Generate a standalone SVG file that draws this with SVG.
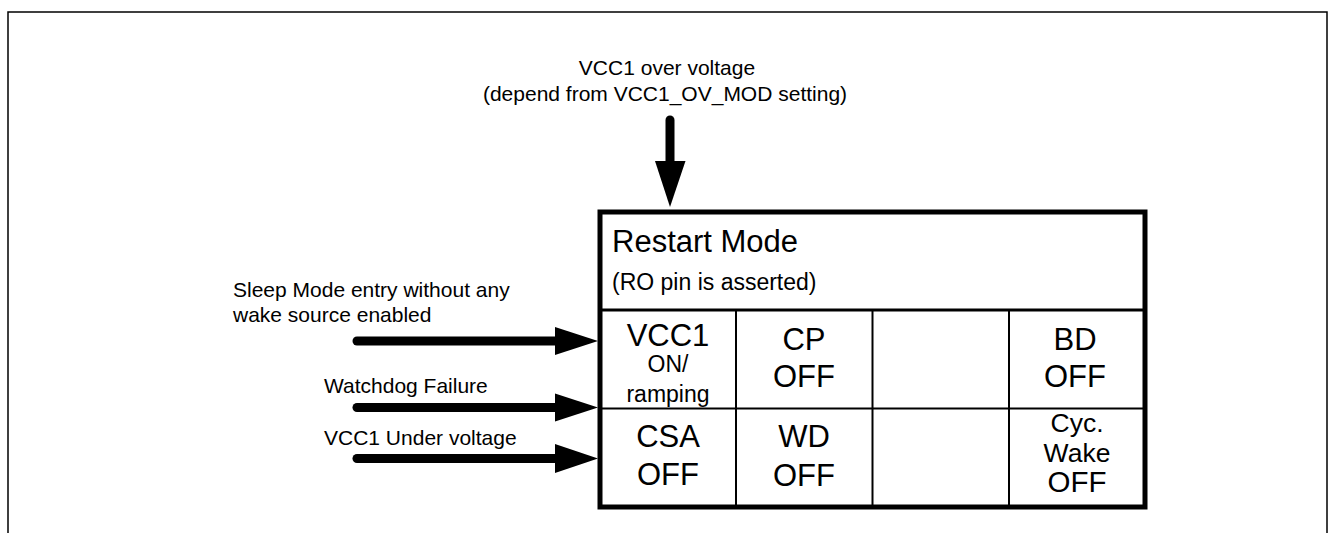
<svg xmlns="http://www.w3.org/2000/svg" width="1333" height="533" viewBox="0 0 1333 533">
<style>
text{font-family:"Liberation Sans",Arial,sans-serif;fill:#000}
.lbl{font-size:21px}
.cell{font-size:31px;text-anchor:middle}
.small{font-size:23px;text-anchor:middle}
.cyc{font-size:26.5px;text-anchor:middle}
.cyc.big{font-size:29.5px}
.grid{stroke:#000;stroke-width:2;fill:none}
.shaft{stroke:#000;stroke-width:9;stroke-linecap:round;fill:none}
</style>
<rect width="1333" height="533" fill="#fff"/>
<path d="M8,533 V12 H1327 V533" fill="none" stroke="#000" stroke-width="1.5"/>

<g id="connectors">
<line class="shaft" x1="670" y1="120" x2="670" y2="166" />
<path d="M655,161 L685.5,161 L670,207 Z" fill="#000"/>
<line class="shaft" x1="357" y1="341" x2="560" y2="341"/>
<path d="M555,327 L598,341 L555,355 Z" fill="#000"/>
<line class="shaft" x1="357" y1="407.5" x2="560" y2="407.5"/>
<path d="M555,393.5 L598,407.5 L555,421.5 Z" fill="#000"/>
<line class="shaft" x1="357" y1="458.5" x2="560" y2="458.5"/>
<path d="M555,444 L598,458.5 L555,473 Z" fill="#000"/>
</g>

<g id="label-ov">
<text class="lbl" x="667" y="75" text-anchor="middle">VCC1 over voltage</text>
<text class="lbl" x="665" y="101" text-anchor="middle">(depend from VCC1_OV_MOD setting)</text>
</g>
<g id="label-sleep">
<text class="lbl" x="233" y="297">Sleep Mode entry without any</text>
<text class="lbl" x="233" y="322">wake source enabled</text>
</g>
<g id="label-wd">
<text class="lbl" x="324" y="393">Watchdog Failure</text>
</g>
<g id="label-uv">
<text class="lbl" x="324" y="445">VCC1 Under voltage</text>
</g>

<g id="restart-mode">
<rect x="600" y="212" width="545" height="295" fill="#fff" stroke="#000" stroke-width="5"/>
<line x1="600" y1="310" x2="1145" y2="310" stroke="#000" stroke-width="3"/>
<line class="grid" x1="600" y1="408.5" x2="1145" y2="408.5"/>
<line class="grid" x1="736" y1="310" x2="736" y2="507"/>
<line class="grid" x1="872.5" y1="310" x2="872.5" y2="507"/>
<line class="grid" x1="1009" y1="310" x2="1009" y2="507"/>
<text x="612" y="252" font-size="31">Restart Mode</text>
<text x="612" y="290" font-size="23">(RO pin is asserted)</text>
</g>
<g id="cell-vcc1">
<text class="cell" x="668" y="346">VCC1</text>
<text class="small" x="668" y="372">ON/</text>
<text class="small" x="668" y="402">ramping</text>
</g>
<g id="cell-cp">
<text class="cell" x="804" y="350">CP</text>
<text class="cell" x="804" y="387">OFF</text>
</g>
<g id="cell-bd">
<text class="cell" x="1075" y="350">BD</text>
<text class="cell" x="1075" y="387">OFF</text>
</g>
<g id="cell-csa">
<text class="cell" x="668" y="447">CSA</text>
<text class="cell" x="668" y="485">OFF</text>
</g>
<g id="cell-wd">
<text class="cell" x="804" y="447">WD</text>
<text class="cell" x="804" y="486">OFF</text>
</g>
<g id="cell-cyc">
<text class="cyc" x="1077" y="432">Cyc.</text>
<text class="cyc" x="1077" y="462">Wake</text>
<text class="cyc big" x="1077" y="492">OFF</text>
</g>
</svg>
